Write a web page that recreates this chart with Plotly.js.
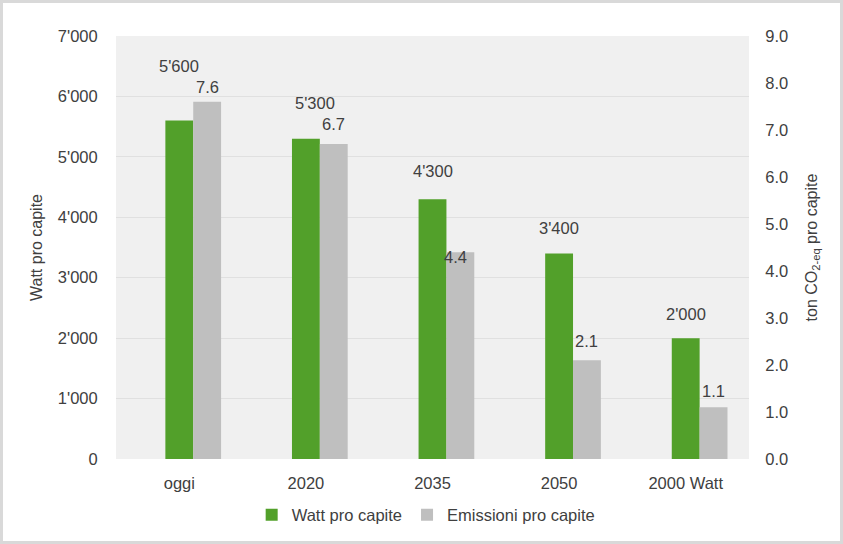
<!DOCTYPE html>
<html>
<head>
<meta charset="utf-8">
<script src="https://cdn.plot.ly/plotly-3.0.1.min.js"></script>
<style>
  html, body { margin: 0; padding: 0; background: #fff; }
  #wrap { position: relative; width: 843px; height: 544px; }
  #chart { width: 843px; height: 544px; }
  #frame { position: absolute; left: 0; top: 0; width: 843px; height: 544px; box-sizing: border-box;
           border: 3px solid #d9d9d9; pointer-events: none; }
</style>
</head>
<body>
<div id="wrap"><div id="chart"></div><div id="frame"></div></div>
<script>
const categories = ['oggi', '2020', '2035', '2050', '2000 Watt'];
const wattValues = [5600, 5300, 4300, 3400, 2000];
const emissionValues = [7.6, 6.7, 4.4, 2.1, 1.1];
const wattLabels = ["5'600", "5'300", "4'300", "3'400", "2'000"];
const emissionLabels = ['7.6', '6.7', '4.4', '2.1', '1.1'];
const leftTickVals = [0, 1000, 2000, 3000, 4000, 5000, 6000, 7000];
const leftTickText = ['0', "1'000", "2'000", "3'000", "4'000", "5'000", "6'000", "7'000"];
const rightTickVals = [0, 1, 2, 3, 4, 5, 6, 7, 8, 9];
const rightTickText = ['0.0', '1.0', '2.0', '3.0', '4.0', '5.0', '6.0', '7.0', '8.0', '9.0'];

// label placement styling (pixel shifts from bar top)
const wattLabelYShift = [55, 36, 28, 26, 24];
const wattLabelXShift = [0, 9, 0, 0, 0];
const emisLabelYShift = [15, 20, -5, 19, 16];
const emisLabelXShift = [0, 0, -5, 0, 0];

const FONT = '"Liberation Sans", Arial, sans-serif';
const TXT = '#404040';
const GREEN = '#52a02a';
const GRAY = '#bfbfbf';
const BW = 0.22;
const FS = 16.5;

const traces = [
  { type: 'bar', name: 'Watt pro capite', x: categories, y: wattValues,
    width: BW, offset: -BW / 2, marker: { color: GREEN }, yaxis: 'y', hoverinfo: 'skip' },
  { type: 'bar', name: 'Emissioni pro capite', x: categories, y: emissionValues,
    width: BW, offset: BW / 2, marker: { color: GRAY }, yaxis: 'y2', hoverinfo: 'skip' }
];

const annotations = [];
categories.forEach((c, i) => {
  annotations.push({ x: i, y: wattValues[i], xref: 'x', yref: 'y', text: wattLabels[i],
    showarrow: false, yanchor: 'middle', xanchor: 'center', yshift: wattLabelYShift[i], xshift: wattLabelXShift[i],
    font: { family: FONT, size: FS, color: TXT } });
  annotations.push({ x: i + BW, y: emissionValues[i], xref: 'x', yref: 'y2', text: emissionLabels[i],
    showarrow: false, yanchor: 'middle', xanchor: 'center', yshift: emisLabelYShift[i],
    xshift: emisLabelXShift[i],
    font: { family: FONT, size: FS, color: TXT } });
});

const layout = {
  width: 843, height: 544,
  margin: { l: 116, r: 94, t: 36, b: 84 },
  paper_bgcolor: '#ffffff', plot_bgcolor: '#f0f0f0',
  font: { family: FONT, size: FS, color: TXT },
  barmode: 'overlay',
  showlegend: true,
  legend: { orientation: 'h', x: 0.49, xanchor: 'center', y: -0.13, yanchor: 'middle',
            font: { family: FONT, size: FS, color: TXT }, itemwidth: 30, traceorder: 'normal' },
  xaxis: { type: 'category', range: [-0.5, 4.5], showgrid: false, zeroline: false, showline: false,
           ticks: 'outside', ticklen: 9, tickcolor: 'rgba(0,0,0,0)', tickfont: { family: FONT, size: FS, color: TXT },
           automargin: false },
  yaxis: { range: [0, 7000], tickvals: leftTickVals, ticktext: leftTickText, showgrid: true, gridcolor: '#e0e0e0',
           zeroline: false, showline: false, ticks: 'outside', ticklen: 14, tickcolor: 'rgba(0,0,0,0)',
           tickfont: { family: FONT, size: FS, color: TXT }, automargin: false,
           title: { text: 'Watt pro capite', font: { family: FONT, size: 16, color: TXT }, standoff: 11 } },
  yaxis2: { range: [0, 9], overlaying: 'y', side: 'right', tickvals: rightTickVals, ticktext: rightTickText,
            showgrid: false, zeroline: false, showline: false, ticks: 'outside', ticklen: 12, tickcolor: 'rgba(0,0,0,0)',
            tickfont: { family: FONT, size: FS, color: TXT }, automargin: false,
            title: { text: 'ton CO<sub>2-eq</sub> pro capite', font: { family: FONT, size: 16, color: TXT }, standoff: 18 } },
  annotations: annotations
};

Plotly.newPlot('chart', traces, layout, { staticPlot: true, displayModeBar: false });
</script>
</body>
</html>
